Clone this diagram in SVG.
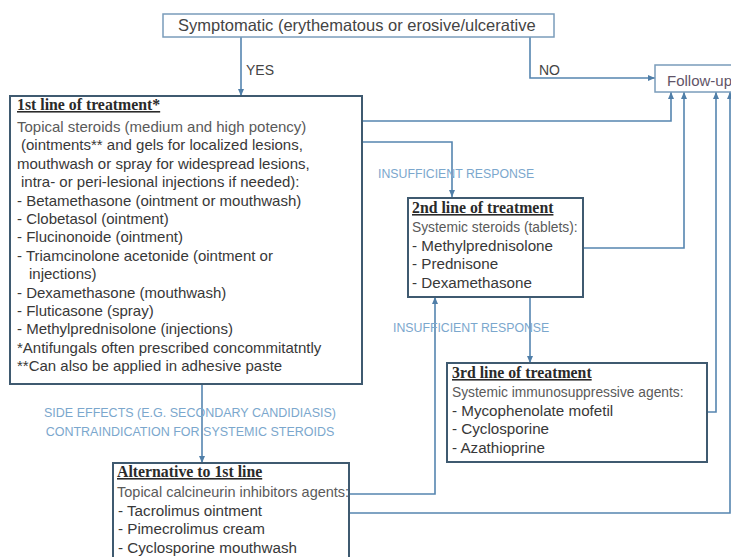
<svg xmlns="http://www.w3.org/2000/svg" width="731" height="557" viewBox="0 0 731 557">
<defs>
<marker id="arr" markerUnits="userSpaceOnUse" markerWidth="7" markerHeight="6" refX="7" refY="3" orient="auto">
<path d="M0,0 L7,3 L0,6 z" fill="#4f7ea8"/>
</marker>
<style>
.bx{fill:#fff;stroke:#3f5a70;stroke-width:2}
.lb{fill:#fff;stroke:#7a9cbb;stroke-width:1.5}
.t{font-family:"Liberation Serif",serif;font-weight:bold;font-size:15.8px;fill:#2a2a2a;text-decoration:underline}
.d{font-family:"Liberation Sans",Arial,sans-serif;font-size:14.5px;fill:#5a5a5a}
.i{font-family:"Liberation Sans",Arial,sans-serif;font-size:15.2px;fill:#383838}
.f{font-size:15px}
.s{font-size:13.8px}
.lab{font-family:"Liberation Sans",Arial,sans-serif;font-size:12.3px;fill:#7ba7cd}
.c{fill:none;stroke:#5585b0;stroke-width:1.6}
</style>
</defs>
<rect width="731" height="557" fill="#ffffff"/>

<g id="connectors">
<path class="c" d="M241 37 V96" marker-end="url(#arr)"/>
<path class="c" d="M530 37 V78 H655" marker-end="url(#arr)"/>
<path class="c" d="M362 121 H671 V92" marker-end="url(#arr)"/>
<path class="c" d="M362 142 H452 V197" marker-end="url(#arr)"/>
<path class="c" d="M583 248 H684 V92" marker-end="url(#arr)"/>
<path class="c" d="M530 297 V363" marker-end="url(#arr)"/>
<path class="c" d="M707 412 H716 V92" marker-end="url(#arr)"/>
<path class="c" d="M202 384 V463" marker-end="url(#arr)"/>
<path class="c" d="M349 494 H435 V297" marker-end="url(#arr)"/>
<path class="c" d="M349 513 H730 V92" marker-end="url(#arr)"/>
<text class="lab" x="246" y="75" style="fill:#444;font-size:14px">YES</text>
<text class="lab" x="539" y="75" style="fill:#444;font-size:14px">NO</text>
<text class="lab" x="378" y="178">INSUFFICIENT RESPONSE</text>
<text class="lab" x="393" y="332">INSUFFICIENT RESPONSE</text>
<text class="lab" x="190" y="417" text-anchor="middle" style="font-size:12.5px">SIDE EFFECTS (E.G. SECONDARY CANDIDIASIS)</text>
<text class="lab" x="190" y="436" text-anchor="middle" style="font-size:12.5px">CONTRAINDICATION FOR SYSTEMIC STEROIDS</text>
</g>

<g id="symptomatic">
<rect class="lb" x="163" y="14" width="391" height="23"/>
<text class="d" x="178" y="31" style="font-size:16.5px;fill:#444">Symptomatic (erythematous or erosive/ulcerative</text>
</g>

<g id="follow-up">
<rect class="lb" x="655" y="65" width="90" height="27"/>
<text class="d" x="667" y="86" style="font-size:15px;fill:#5f5468">Follow-up</text>
</g>

<g id="first-line">
<rect class="bx" x="10" y="96" width="352" height="288"/>
<text class="t" x="17" y="110">1st line of treatment*</text>
<text class="d f" x="17" y="132">Topical steroids (medium and high potency)</text>
<text class="i f" x="21" y="150.4">(ointments** and gels for localized lesions,</text>
<text class="i f" x="17" y="168.8">mouthwash or spray for widespread lesions,</text>
<text class="i f" x="21" y="187.2">intra- or peri-lesional injections if needed):</text>
<text class="i f" x="17" y="205.6">- Betamethasone (ointment or mouthwash)</text>
<text class="i f" x="17" y="224">- Clobetasol (ointment)</text>
<text class="i f" x="17" y="242.4">- Flucinonoide (ointment)</text>
<text class="i f" x="17" y="260.8">- Triamcinolone acetonide (ointment or</text>
<text class="i f" x="29" y="279.2">injections)</text>
<text class="i f" x="17" y="297.6">- Dexamethasone (mouthwash)</text>
<text class="i f" x="17" y="316">- Fluticasone (spray)</text>
<text class="i f" x="17" y="334.4">- Methylprednisolone (injections)</text>
<text class="i f" x="17" y="352.8">*Antifungals often prescribed concommitatntly</text>
<text class="i f" x="17" y="371.2">**Can also be applied in adhesive paste</text>
</g>

<g id="second-line">
<rect class="bx" x="408" y="198" width="175" height="99"/>
<text class="t" x="412" y="213">2nd line of treatment</text>
<text class="d s" x="412" y="232">Systemic steroids (tablets):</text>
<text class="i" x="412" y="250.5">- Methylprednisolone</text>
<text class="i" x="412" y="269">- Prednisone</text>
<text class="i" x="412" y="287.5">- Dexamethasone</text>
</g>

<g id="third-line">
<rect class="bx" x="447" y="363" width="260" height="99"/>
<text class="t" x="452" y="378">3rd line of treatment</text>
<text class="d s" x="452" y="397">Systemic immunosuppressive agents:</text>
<text class="i" x="452" y="415.5">- Mycophenolate mofetil</text>
<text class="i" x="452" y="434">- Cyclosporine</text>
<text class="i" x="452" y="452.5">- Azathioprine</text>
</g>

<g id="alternative">
<rect class="bx" x="113" y="463" width="236" height="110"/>
<text class="t" x="117" y="477">Alternative to 1st line</text>
<text class="d" x="117" y="497">Topical calcineurin inhibitors agents:</text>
<text class="i" x="118" y="515.5">- Tacrolimus ointment</text>
<text class="i" x="118" y="534">- Pimecrolimus cream</text>
<text class="i" x="118" y="552.5">- Cyclosporine mouthwash</text>
</g>
</svg>
